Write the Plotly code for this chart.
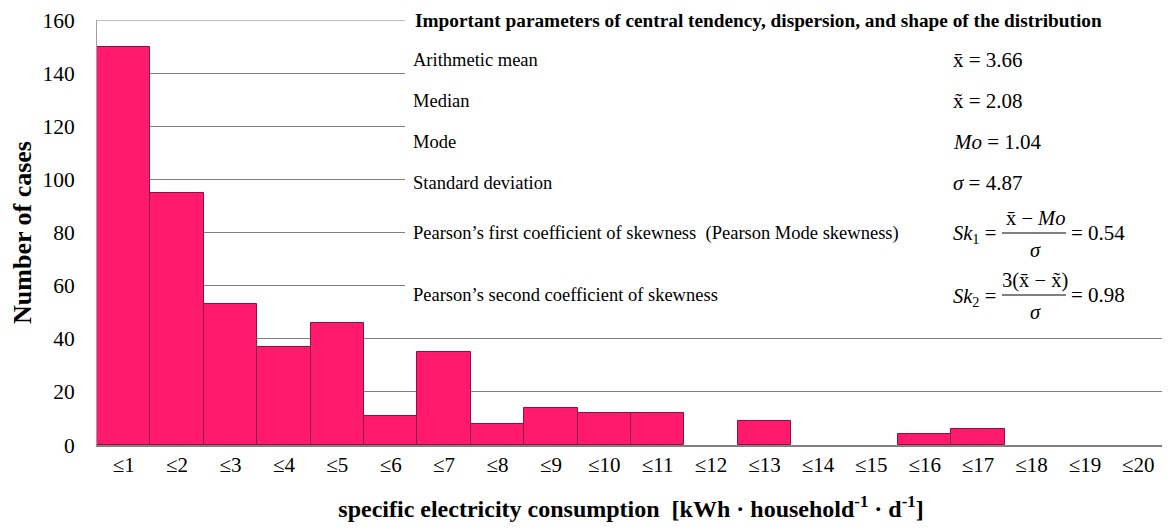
import plotly.graph_objects as go

# histogram data
bins = ["≤%d" % i for i in range(1, 21)]
cases = [150, 95, 53, 37, 46, 11, 35, 8, 14, 12, 12, 0, 9, 0, 0, 4, 6, 0, 0, 0]

param_names = ["Arithmetic mean", "Median", "Mode", "Standard deviation",
               "Pearson’s first coefficient of skewness  (Pearson Mode skewness)",
               "Pearson’s second coefficient of skewness"]
param_values = ["x̄ = 3.66", "x̃ = 2.08", "<i>Mo</i> = 1.04", "<i>σ</i> = 4.87",
                "= 0.54", "= 0.98"]

# page has an 8px body margin, so the figure is a bit smaller than the window
OFF = 8
W, H = 1170 - OFF, 531 - OFF
L, R, T, B = 89, 5, 12, 86
FONT = "Liberation Serif"


def px(x):
    # page pixel -> paper x
    return (x - OFF - L) / (W - L - R)


def py(y):
    # page pixel -> paper y
    return (H - B - (y - OFF)) / (H - B - T)


def note(x, y, text, size=18.5, anchor="left"):
    return dict(x=px(x), y=py(y), xref="paper", yref="paper", text=text, showarrow=False,
                xanchor=anchor, yanchor="middle", font=dict(family=FONT, size=size, color="black"))


fig = go.Figure()
# empty classes get no bar at all
fig.add_trace(go.Bar(x=bins, y=[v if v else None for v in cases],
                     marker=dict(color="#FF1A6E", line=dict(color="#8E0F42", width=1))))

ann = [note(413, 20, "<b>Important parameters of central tendency, dispersion, and shape of the distribution</b>", 19.3)]
rows_y = [60, 101, 142, 183, 233, 295]
for name, yy in zip(param_names, rows_y):
    ann.append(note(411, yy, name))
for val, yy in zip(param_values[:4], rows_y[:4]):
    ann.append(note(951, yy, val, 21))
# Sk1 fraction
ann.append(note(951, 234, "<i>Sk</i><sub>1</sub> =", 20.5))
ann.append(note(1035, 218, "x̄ − <i>Mo</i>", 20.5, anchor="center"))
ann.append(note(1035, 250, "<i>σ</i>", 20.5, anchor="center"))
ann.append(note(1069, 233, param_values[4], 21))
# Sk2 fraction
ann.append(note(951, 297, "<i>Sk</i><sub>2</sub> =", 20.5))
ann.append(note(1035, 280, "3(x̄ − x̃)", 20.5, anchor="center"))
ann.append(note(1035, 312, "<i>σ</i>", 20.5, anchor="center"))
ann.append(note(1069, 295, param_values[5], 21))

shapes = [
    dict(type="rect", xref="paper", yref="paper", x0=px(405), x1=1.01, y0=py(318), y1=1.05,
         fillcolor="white", line=dict(width=0), layer="above"),
    # top grid line at 160, left part only
    dict(type="line", xref="paper", yref="y", x0=0, x1=px(405), y0=160, y1=160,
         line=dict(color="#808080", width=1.2), layer="below"),
    dict(type="line", xref="paper", yref="paper", x0=px(1002), x1=px(1066), y0=py(233), y1=py(233),
         line=dict(color="black", width=1)),
    dict(type="line", xref="paper", yref="paper", x0=px(1002), x1=px(1066), y0=py(295), y1=py(295),
         line=dict(color="black", width=1)),
]

fig.update_layout(
    width=W, height=H,
    margin=dict(l=L, r=R, t=T, b=B, autoexpand=False),
    plot_bgcolor="white", paper_bgcolor="white",
    font=dict(family=FONT, color="black", size=20),
    bargap=0, showlegend=False,
    annotations=ann, shapes=shapes,
    xaxis=dict(showgrid=False, showline=True, linecolor="#808080", linewidth=1.5, ticks="", automargin=False,
               tickfont=dict(family=FONT, size=21),
               title=dict(text="<b>specific electricity consumption  [kWh · household<sup>-1</sup> · d<sup>-1</sup>]</b>",
                          font=dict(family=FONT, size=24), standoff=24)),
    yaxis=dict(range=[0, 160], dtick=20, showgrid=True, gridcolor="#808080", gridwidth=1.2, automargin=False,
               showline=True, linecolor="#A0A0A0", linewidth=1, ticks="", ticklabelstandoff=17,
               ticklabeloverflow="allow", tickfont=dict(family=FONT, size=21.5),
               title=dict(text="<b>Number of cases</b>", font=dict(family=FONT, size=26), standoff=7)),
)

fig.write_html("out.html")
